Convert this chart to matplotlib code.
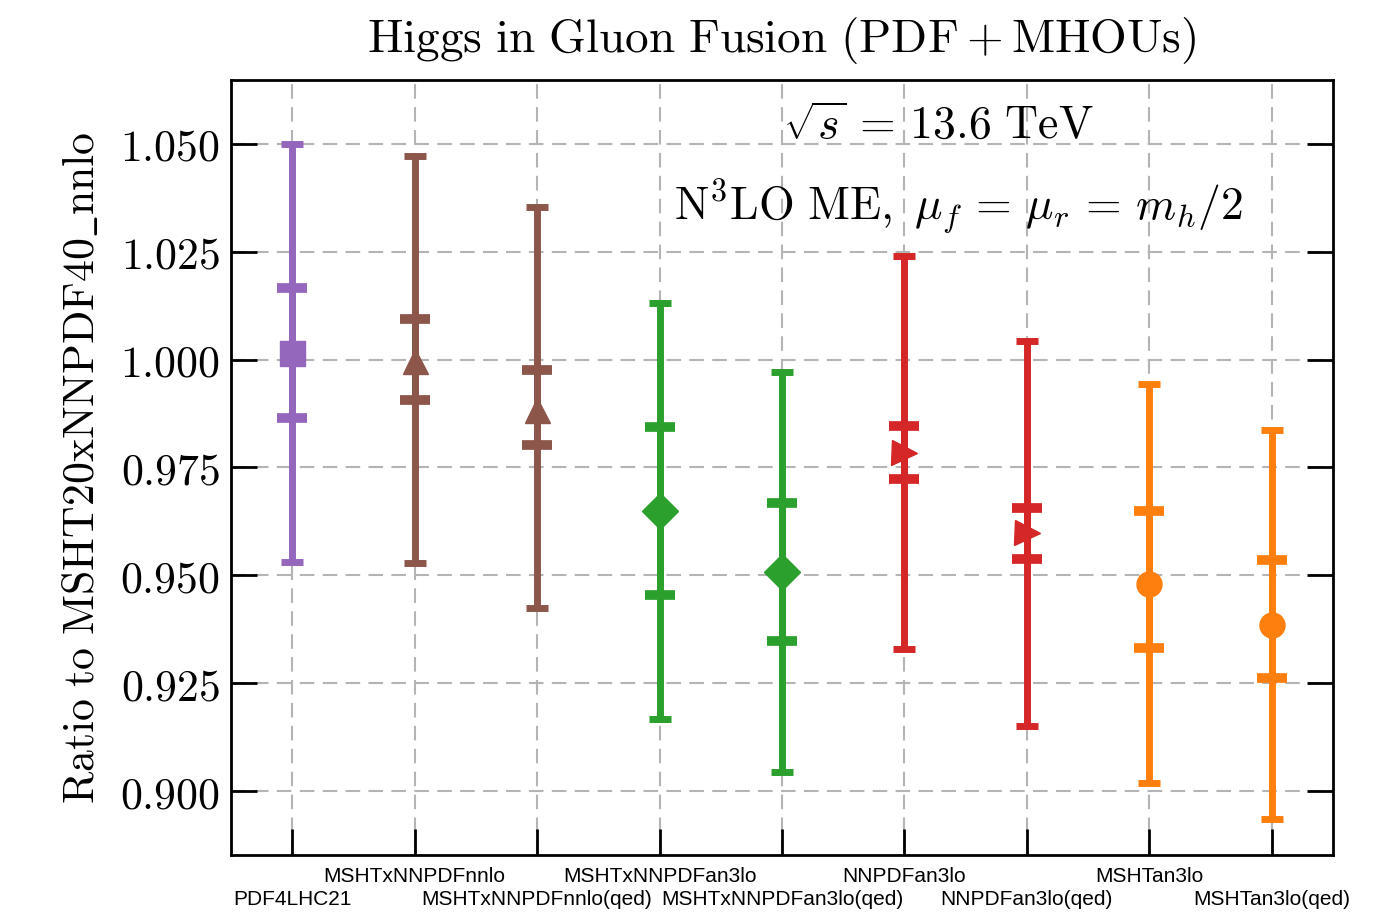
import matplotlib
matplotlib.use("Agg")
import matplotlib.pyplot as plt
from matplotlib.ticker import FuncFormatter

# values
pdf_sets = ["PDF4LHC21", "MSHTxNNPDFnnlo", "MSHTxNNPDFnnlo(qed)",
            "MSHTxNNPDFan3lo", "MSHTxNNPDFan3lo(qed)", "NNPDFan3lo",
            "NNPDFan3lo(qed)", "MSHTan3lo", "MSHTan3lo(qed)"]
central = [1.0016, 0.9996, 0.9884, 0.9650, 0.9508, 0.9784, 0.9597, 0.9481, 0.9386]
inner_hi = [1.0166, 1.0094, 0.9976, 0.9843, 0.9668, 0.9845, 0.9656, 0.9650, 0.9535]
inner_lo = [0.9865, 0.9906, 0.9802, 0.9455, 0.9349, 0.9723, 0.9538, 0.9331, 0.9262]
outer_hi = [1.0500, 1.0471, 1.0354, 1.0132, 0.9971, 1.0241, 1.0043, 0.9944, 0.9837]
outer_lo = [0.9532, 0.9529, 0.9424, 0.9167, 0.9045, 0.9329, 0.9152, 0.9019, 0.8935]
colors = ["#9467bd", "#8c564b", "#8c564b", "#2ca02c", "#2ca02c",
          "#d62728", "#d62728", "#ff7f0e", "#ff7f0e"]
markers = ["s", "^", "^", "D", "D", ">", ">", "o", "o"]

plt.rcParams["mathtext.fontset"] = "cm"

fig = plt.figure(figsize=(13.94, 9.15), dpi=100)
ax = fig.add_axes([0.1657, 0.0656, 0.7905, 0.847])

for i, name in enumerate(pdf_sets):
    c = colors[i]
    ax.errorbar(i, central[i],
                yerr=[[central[i] - outer_lo[i]], [outer_hi[i] - central[i]]],
                fmt="none", ecolor=c, elinewidth=5, capsize=8, capthick=5, zorder=3)
    ax.errorbar(i, central[i],
                yerr=[[central[i] - inner_lo[i]], [inner_hi[i] - central[i]]],
                fmt="none", ecolor=c, elinewidth=5, capsize=11, capthick=7, zorder=3)
    ax.plot(i, central[i], marker=markers[i], color=c, markersize=18, zorder=4)

ax.set_xlim(-0.5, 8.5)
ax.set_ylim(0.8852, 1.0648)
ax.set_yticks([0.900, 0.925, 0.950, 0.975, 1.000, 1.025, 1.050])
ax.yaxis.set_major_formatter(FuncFormatter(lambda v, p: f"${v:.3f}$"))
ax.set_xticks(range(len(pdf_sets)))
ax.set_xticklabels(pdf_sets, fontsize=15, family="Liberation Sans")

ax.tick_params(axis="y", which="major", direction="in", length=19, width=2,
               labelsize=31.5, right=True, pad=8)
ax.tick_params(axis="x", which="major", direction="in", length=19, width=2,
               top=False, pad=9)
# stagger the long names over two rows
for i, tick in enumerate(ax.xaxis.get_major_ticks()):
    if i % 2 == 0:
        tick.set_pad(25)
ax.minorticks_off()
for s in ax.spines.values():
    s.set_linewidth(2)

ax.grid(True, color="#b4b4b4", linestyle=(0, (7, 4)), linewidth=1.5, zorder=0)
ax.set_axisbelow(True)

ax.set_title(r"$\mathrm{Higgs\ in\ Gluon\ Fusion\ (PDF + MHOUs)}$", fontsize=34, pad=20)
ax.set_ylabel(r"$\mathrm{Ratio\ to\ MSHT20xNNPDF40\_nnlo}$", fontsize=31.5, labelpad=12)

ax.text(0.6416, 0.940, r"$\sqrt{s}\,=\,13.6\ \mathrm{TeV}$", transform=ax.transAxes,
        ha="center", va="center", fontsize=33)
ax.text(0.66, 0.8367, r"$\mathrm{N^3LO\ ME},\ \mu_f\,=\,\mu_r\,=\,m_h/2$",
        transform=ax.transAxes, ha="center", va="center", fontsize=33)

fig.savefig("out.png", dpi=100)
